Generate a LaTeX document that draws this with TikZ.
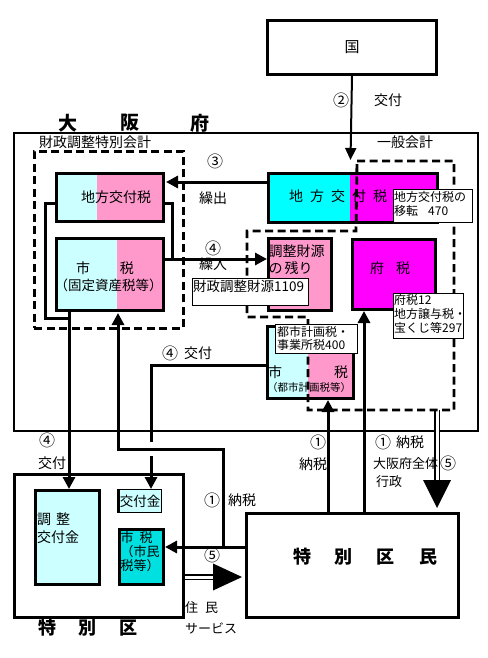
\documentclass[tikz,border=0pt]{standalone}
\usepackage{fontspec}
\setmainfont{Noto Sans CJK JP}
\usetikzlibrary{arrows.meta}
\definecolor{lcyan}{HTML}{CCFFFF}
\definecolor{pinkc}{HTML}{FF99CC}
\definecolor{cyanc}{HTML}{00FFFF}
\definecolor{magc}{HTML}{FF00FF}
\definecolor{kcyan}{HTML}{00E0E0}
\begin{document}
\begin{tikzpicture}[x=1pt,y=-1pt,
  boxst/.style={draw, line width=3pt, inner sep=0pt, anchor=north west},
  framest/.style={draw, line width=2.3pt, inner sep=0pt, anchor=north west},
  dashst/.style={draw, line width=2.8pt, dash pattern=on 8pt off 4.5pt},
  lblst/.style={draw, fill=white, line width=0.9pt, inner sep=0pt, anchor=north west},
  connst/.style={line width=3pt},
  arrst/.style={line width=3pt, -{Triangle[length=12pt,width=12pt]}},
  dblst/.style={line width=1.5pt, double distance=3pt},
  t14/.style={inner sep=0pt, font=\fontsize{14pt}{16pt}\selectfont},
  cn/.style={inner sep=0pt, font=\fontsize{16pt}{18pt}\selectfont},
  t13/.style={inner sep=0pt, font=\fontsize{13pt}{15pt}\selectfont},
  t12/.style={inner sep=0pt, font=\fontsize{12pt}{14pt}\selectfont},
  ttl/.style={inner sep=0pt, font=\fontsize{19pt}{21pt}\selectfont\bfseries},
  ttm/.style={inner sep=0pt, font=\fontsize{18pt}{20pt}\selectfont\bfseries},
]
\fill[white] (0,0) rectangle (487,658);
\useasboundingbox (0,0) rectangle (487,658);

% ---- two-colour fills
\fill[lcyan] (55,172) rectangle (97,220);
\fill[pinkc] (97,172) rectangle (162,220);
\fill[lcyan] (55,237) rectangle (117,309);
\fill[pinkc] (117,237) rectangle (162,309);
\fill[cyanc] (267,172) rectangle (350,221);
\fill[magc] (350,172) rectangle (436,221);
\fill[lcyan] (266,325) rectangle (308,397);
\fill[pinkc] (308,325) rectangle (352,397);

% ---- top: 国
\node[boxst, minimum width=169pt, minimum height=54pt, font=\fontsize{15pt}{17pt}\selectfont] (guo) at (266,19) {国};
\coordinate (c2) at (350.5,160);
\draw[line width=2pt, -{Triangle[length=12pt,width=11pt]}] (guo.south) -- (c2);
\node[cn] (l2a) at (341,100) {②};
\node[t14] (l2b) at (388,100) {交付};

% ---- 大阪府 frame
\node[framest, minimum width=464pt, minimum height=298pt] (osaka) at (13,132) {};
\node[ttl] (o1) at (68,123) {大};
\node[ttl] (o2) at (130,123) {阪};
\node[ttl] (o3) at (200,123) {府};
\node[t14] (zlab) at (95,142) {財政調整特別会計};
\node[t14] (glab) at (405,142) {一般会計};

% ---- left account boxes
\node[boxst, minimum width=107pt, minimum height=48pt] (chikoL) at (55,172) {};
\node[t14] (chikoLt) at (116,197) {地方交付税};
\node[boxst, minimum width=107pt, minimum height=72pt] (shizeiL) at (55,237) {};
\node[t14] (shizeiLa) at (105,268) {市\hspace{30pt}税};
\node[inner sep=0pt, font=\fontsize{13.5pt}{15pt}\selectfont] (shizeiLb) at (108.5,285) {（固定資産税等）};

% ---- general account boxes
\node[boxst, minimum width=169pt, minimum height=49pt] (chikoR) at (267,172) {};
\node[t14] (chikoRt) at (338,196) {地\hspace{7pt}方\hspace{7pt}交\hspace{7pt}付\hspace{7pt}税};
\node[boxst, fill=pinkc, minimum width=63pt, minimum height=72pt] (chosei) at (267,237) {};
\node[t14, anchor=west] (choseia) at (268.5,251) {調整財源};
\node[t14, anchor=west] (choseib) at (268.5,268) {の\hspace{2pt}残り};
\node[boxst, fill=magc, minimum width=83pt, minimum height=70pt] (fuzei) at (351,238) {};
\node[t14] (fuzeit) at (390,268) {府\hspace{12pt}税};
\node[boxst, minimum width=86pt, minimum height=72pt] (toshi) at (266,325) {};
\node[t14, anchor=west] (toshia) at (268,372) {市};
\node[t14] (toshib) at (341,372) {税};
\node[inner sep=0pt, font=\fontsize{10.5pt}{12pt}\selectfont] (toshic) at (309,388) {（都市計画税等）};

% ---- 特別区
\node[boxst, minimum width=169pt, minimum height=143pt] (ku) at (13,473) {};
\node[ttm] (kut) at (88,628) {特\hspace{23pt}別\hspace{23pt}区};
\node[boxst, fill=lcyan, minimum width=64pt, minimum height=94pt] (chokofu) at (34,489) {};
\node[t14, anchor=west] (chokofua) at (37,519) {調\hspace{5pt}整};
\node[t14, anchor=west] (chokofub) at (37,537) {交付金};
\node[draw, line width=1pt, fill=lcyan, inner sep=0pt, anchor=north west, minimum width=43pt, minimum height=23pt, font=\fontsize{13.5pt}{15pt}\selectfont] (kofukin) at (118,489) {交付金};
\draw[line width=3pt] (kofukin.north west) -- (kofukin.south west);
\node[boxst, fill=kcyan, minimum width=44pt, minimum height=55pt] (shizeiK) at (118,528) {};
\node[t13, anchor=west] (shizeiKa) at (120.5,538) {市\hspace{6pt}税};
\node[t13, anchor=west] (shizeiKb) at (120.5,552) {（市民};
\node[t13, anchor=west] (shizeiKc) at (120.5,566) {税等）};

% ---- 特別区民
\node[boxst, minimum width=212pt, minimum height=104pt] (kumin) at (245,512) {};
\node[ttm] (kumint) at (365,557) {特\hspace{24pt}別\hspace{24pt}区\hspace{24pt}民};

% ---- connectors
\coordinate (a3) at (166,182);
\draw[arrst] (chikoR.west |- a3) -- (a3);
\coordinate (a4) at (0,259);
\draw[arrst] (shizeiL.east |- a4) -- (chosei.west |- a4);
\coordinate (b1) at (172,203);
\draw[connst] (chikoL.east |- b1) -- (b1) -- (b1 |- a4);
\coordinate (b2) at (45,203);
\coordinate (b3) at (45,318);
\coordinate (v69) at (69,318);
\draw[connst] (chikoL.west |- b2) -- (b2) -- (b3) -- (v69);
\draw[arrst] (shizeiL.south -| v69) -- (chokofu.north -| v69);

\coordinate (p1) at (223,547);
\coordinate (p2) at (223,449);
\coordinate (p3) at (118,449);
\coordinate (p4) at (118,313);
\draw[arrst] (p1) -- (p2) -- (p3) -- (p4);
\draw[arrst] (kumin.west |- p1) -- (shizeiK.east |- p1);

\coordinate (q1) at (151,365);
\coordinate (q2) at (151,442);
\coordinate (q3) at (151,456);
\draw[arrst] (toshi.west |- q1) -- (q1) -- (q2) (q3) -- (kofukin.north -| q1);

\coordinate (r1) at (328,0);
\coordinate (r2) at (364,0);
\draw[arrst] (kumin.north -| r1) -- (toshi.south -| r1);
\draw[arrst] (kumin.north -| r2) -- (fuzei.south -| r2);

% double arrows (5)
\coordinate (d1) at (437,410);
\coordinate (d2) at (437,481);
\draw[dblst] (d1) -- (d2);
\fill (423,480) -- (451,480) -- (437,508) -- cycle;
\coordinate (e1) at (214,577);
\draw[dblst] (ku.east |- e1) -- (e1);
\fill (213,563.5) -- (213,590.5) -- (242,577) -- cycle;

% ---- dashed outlines
\node[dashst, inner sep=0pt, anchor=north west, minimum width=149pt, minimum height=177pt] (zaisei) at (33,150) {};
\draw[dashst] (357,161) -- (454,161) -- (454,410) -- (308,410) -- (308,317) -- (247,317) -- (247,231) -- (356,231) -- cycle;

% ---- label boxes
\node[lblst, minimum width=116pt, minimum height=27pt] (lb1) at (192,278) {};
\node[inner sep=0pt, anchor=west, font=\fontsize{13.5pt}{15pt}\selectfont] (lb1t) at (193,286) {財政調整財源1109};
\node[lblst, minimum width=79pt, minimum height=33pt] (lb2) at (393,189) {};
\node[t12, anchor=west] (lb2a) at (394,197) {地方交付税の};
\node[t12, anchor=west] (lb2b) at (394,211) {移転\hspace{10pt}470};
\node[lblst, minimum width=70pt, minimum height=45pt] (lb3) at (393,293) {};
\node[t12, anchor=west] (lb3a) at (394,300) {府税12};
\node[t12, anchor=west] (lb3b) at (394,314) {地方譲与税・};
\node[t12, anchor=west] (lb3c) at (394,328) {宝くじ等297};
\node[lblst, minimum width=82pt, minimum height=29pt] (lb4) at (275,324) {};
\node[t12, anchor=west] (lb4a) at (277,332) {都市計画税・};
\node[t12, anchor=west] (lb4b) at (277,345) {事業所税400};

% ---- connector labels
\node[cn] (n3) at (215,161) {③};
\node[t14] (n3b) at (213,198) {繰出};
\node[cn] (n4) at (213,248) {④};
\node[t14] (n4b) at (213,264) {繰入};
\node[cn] (n4c) at (170,353) {④};
\node[t14] (n4d) at (198,353) {交付};
\node[cn] (n4e) at (47,440) {④};
\node[t14] (n4f) at (52,463) {交付};
\node[cn] (n1a) at (318,442) {①};
\node[t14] (n1b) at (313,464) {納税};
\node[cn] (n1c) at (383,442) {①};
\node[t14] (n1d) at (410,442) {納税};
\node[t13, anchor=west] (n5a) at (373,464) {大阪府全体};
\node[t13, anchor=west] (n5b) at (376,482) {行政};
\node[cn] (n5c) at (448,463) {⑤};
\node[cn] (n1e) at (212,500) {①};
\node[t14] (n1f) at (242,500) {納税};
\node[cn] (n5d) at (212,555) {⑤};
\node[t13, anchor=west] (n6a) at (185,608) {住\hspace{7pt}民};
\node[t13, anchor=west] (n6b) at (185,628) {サービス};
\end{tikzpicture}
\end{document}
